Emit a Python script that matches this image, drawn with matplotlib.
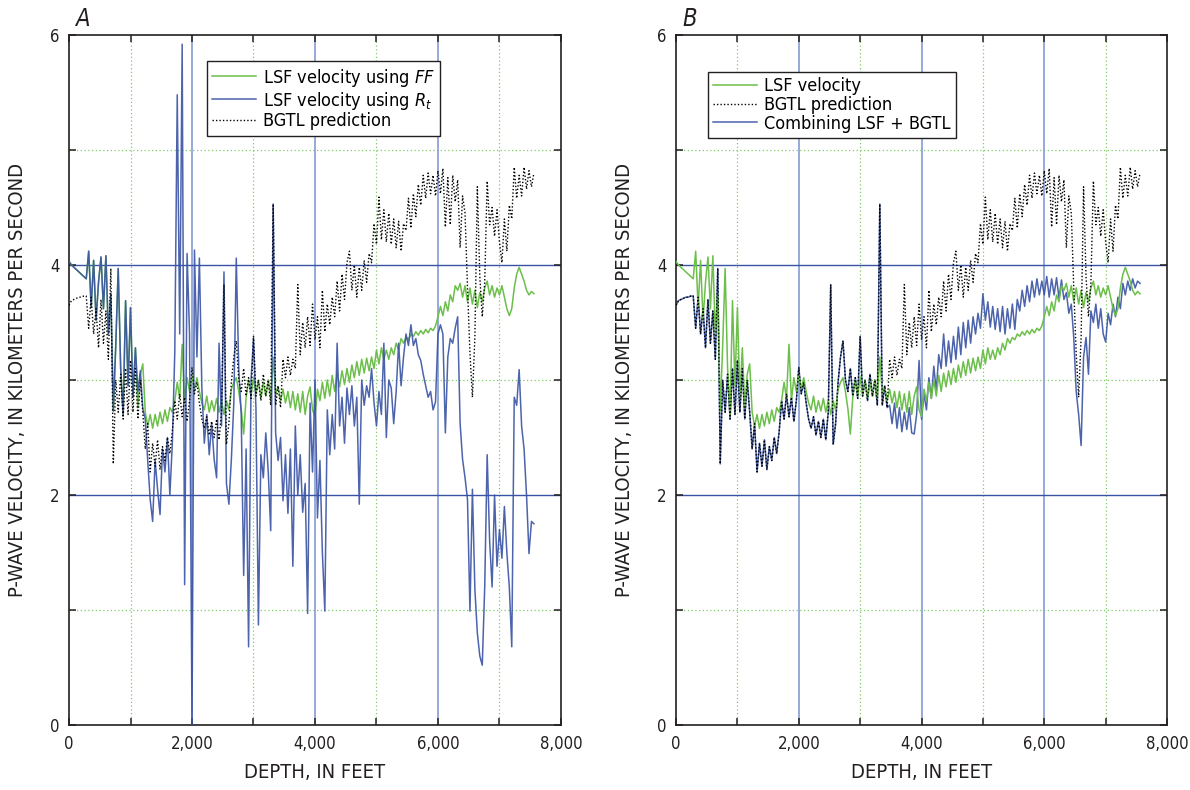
import numpy as np
import matplotlib
matplotlib.use('Agg')
import matplotlib.pyplot as plt
from matplotlib.ticker import MultipleLocator, FuncFormatter

plt.rcParams['font.family'] = ['DejaVu Sans']
plt.rcParams['font.stretch'] = 'condensed'
plt.rcParams['mathtext.fontset'] = 'custom'
plt.rcParams['mathtext.rm'] = 'DejaVu Sans'
plt.rcParams['mathtext.it'] = 'DejaVu Sans:italic'

# log samples every 40 ft, 0 - 7560 ft
depth = np.arange(0, 7561, 40)

# LSF velocity (km/s) from formation factor
lsf_velocity = [
    4.03, 4.00, 3.98, 3.96, 3.94, 3.92, 3.90, 3.88, 4.12, 3.63,
    4.04, 3.52, 3.85, 4.07, 3.62, 4.08, 3.40, 3.75, 2.73, 3.30,
    3.97, 3.10, 2.70, 3.69, 2.95, 3.63, 2.85, 3.28, 2.76, 3.05,
    3.14, 2.72, 2.60, 2.70, 2.58, 2.70, 2.60, 2.72, 2.62, 2.74,
    2.64, 2.76, 2.72, 2.82, 2.98, 2.84, 3.31, 2.82, 3.02, 2.90,
    3.04, 2.92, 3.02, 2.90, 2.80, 2.74, 2.86, 2.72, 2.82, 2.73,
    2.84, 2.72, 2.82, 2.70, 2.82, 2.74, 2.92, 2.98, 3.02, 2.90,
    2.75, 2.53, 2.85, 3.00, 2.86, 3.02, 2.88, 3.00, 2.84, 2.98,
    2.86, 3.00, 2.84, 3.20, 2.88, 2.94, 2.82, 2.92, 2.80, 2.90,
    2.76, 2.90, 2.74, 2.88, 2.72, 2.90, 2.70, 2.86, 2.94, 2.74,
    2.68, 2.92, 2.82, 2.98, 2.84, 3.00, 2.86, 3.04, 2.90, 3.06,
    2.94, 3.08, 2.96, 3.10, 2.98, 3.13, 3.02, 3.16, 3.04, 3.18,
    3.06, 3.19, 3.08, 3.20, 3.10, 3.26, 3.14, 3.28, 3.18, 3.26,
    3.18, 3.28, 3.22, 3.32, 3.26, 3.36, 3.32, 3.37, 3.35, 3.40,
    3.38, 3.42, 3.39, 3.43, 3.40, 3.44, 3.41, 3.45, 3.43, 3.47,
    3.55, 3.64, 3.56, 3.68, 3.60, 3.74, 3.68, 3.82, 3.78, 3.84,
    3.72, 3.82, 3.68, 3.80, 3.66, 3.78, 3.63, 3.76, 3.68, 3.80,
    3.86, 3.74, 3.82, 3.72, 3.80, 3.74, 3.82, 3.72, 3.62, 3.56,
    3.62, 3.80, 3.92, 3.98, 3.92, 3.86, 3.78, 3.74, 3.77, 3.75,
]

# BGTL predicted velocity (km/s)
bgtl_velocity = [
    3.65, 3.69, 3.70, 3.71, 3.72, 3.72, 3.73, 3.73, 3.45, 3.72,
    3.40, 3.62, 3.28, 3.70, 3.32, 3.60, 3.18, 3.97, 2.27, 3.00,
    2.72, 3.05, 2.66, 3.10, 2.70, 3.17, 2.72, 3.10, 2.66, 3.00,
    2.72, 2.40, 2.62, 2.20, 2.45, 2.25, 2.48, 2.22, 2.42, 2.30,
    2.50, 2.36, 2.55, 2.82, 2.66, 2.88, 2.68, 2.85, 2.64, 2.82,
    3.11, 2.88, 2.98, 2.80, 2.66, 2.58, 2.68, 2.52, 2.64, 2.50,
    2.66, 2.48, 2.72, 3.83, 2.44, 2.62, 2.98, 3.20, 3.34, 3.00,
    2.90, 3.10, 2.86, 3.02, 2.84, 3.38, 2.86, 3.00, 2.82, 3.05,
    2.86, 3.00, 2.78, 4.53, 2.78, 2.95, 2.76, 3.18, 3.02, 3.20,
    3.04, 3.18, 3.10, 3.83, 3.22, 3.50, 3.28, 3.55, 3.30, 3.66,
    3.35, 3.55, 3.28, 3.78, 3.42, 3.66, 3.48, 3.72, 3.55, 3.86,
    3.60, 3.92, 3.70, 4.02, 4.12, 3.78, 4.00, 3.72, 3.98, 3.78,
    4.04, 3.85, 4.10, 4.02, 4.36, 4.18, 4.59, 4.22, 4.48, 4.20,
    4.45, 4.18, 4.40, 4.15, 4.38, 4.12, 4.36, 4.30, 4.58, 4.32,
    4.62, 4.42, 4.70, 4.52, 4.78, 4.58, 4.80, 4.62, 4.78, 4.60,
    4.82, 4.62, 4.84, 4.33, 4.76, 4.35, 4.78, 4.55, 4.74, 4.15,
    4.60, 4.45, 3.80, 3.23, 2.85, 3.37, 4.68, 3.90, 3.55, 3.85,
    4.73, 4.35, 4.50, 4.25, 4.48, 4.20, 4.02, 4.40, 4.12, 4.52,
    4.40, 4.85, 4.58, 4.78, 4.60, 4.85, 4.66, 4.82, 4.68, 4.80,
]

# LSF velocity (km/s) from true resistivity; same as FF curve above 1,100 ft
rt_velocity = lsf_velocity[:28] + [
    2.90, 3.08,
    2.75, 2.66, 2.30, 1.96, 1.77, 2.30, 2.05, 1.83, 2.40, 2.20,
    2.50, 2.00, 2.45, 3.24, 5.48, 3.40, 5.92, 1.22, 4.10, 3.40,
    0.00, 4.13, 3.20, 4.06, 2.93, 2.45, 2.70, 2.35, 2.62, 2.31,
    2.15, 3.32, 2.60, 3.94, 2.10, 1.92, 2.31, 2.80, 4.06, 3.10,
    2.70, 1.30, 2.40, 0.68, 3.00, 3.36, 2.75, 0.87, 2.35, 2.15,
    2.54, 2.20, 1.69, 4.53, 2.54, 2.30, 2.50, 1.95, 2.35, 1.84,
    2.40, 1.38, 2.60, 2.00, 2.35, 1.85, 2.10, 0.97, 2.80, 2.20,
    3.00, 1.80, 2.30, 1.50, 0.99, 2.74, 2.35, 2.70, 2.40, 3.32,
    2.60, 2.85, 2.45, 2.93, 2.70, 2.95, 2.60, 2.85, 1.92, 3.00,
    2.78, 2.95, 2.85, 3.10, 2.80, 2.60, 2.90, 2.70, 3.32, 2.50,
    3.00, 2.93, 2.62, 2.90, 3.32, 2.95, 3.20, 3.40, 3.30, 3.48,
    3.30, 3.36, 3.22, 3.17, 3.05, 2.95, 2.85, 2.90, 2.74, 2.81,
    3.40, 3.48, 3.40, 2.54, 3.20, 3.36, 3.32, 3.45, 3.55, 2.62,
    2.31, 2.15, 1.96, 0.99, 2.05, 1.18, 0.80, 0.60, 0.52, 1.20,
    2.35, 1.60, 1.20, 2.00, 1.38, 1.70, 1.45, 1.90, 1.50, 1.20,
    0.68, 2.85, 2.78, 3.09, 2.60, 2.40, 2.00, 1.49, 1.77, 1.75,
]

# combined LSF + BGTL velocity (km/s); follows BGTL above 3,480 ft
combined_velocity = bgtl_velocity[:87] + [
    2.78, 2.62, 2.80,
    2.58, 2.76, 2.55, 2.72, 2.57, 2.76, 2.54, 2.53, 2.70, 3.17,
    2.66, 2.88, 2.74, 3.02, 2.84, 3.12, 2.90, 3.22, 3.10, 3.40,
    3.12, 3.34, 3.15, 3.38, 3.18, 3.46, 3.22, 3.50, 3.28, 3.52,
    3.32, 3.55, 3.40, 3.58, 3.45, 3.75, 3.52, 3.68, 3.46, 3.64,
    3.44, 3.62, 3.42, 3.64, 3.40, 3.62, 3.45, 3.66, 3.44, 3.70,
    3.60, 3.78, 3.64, 3.82, 3.68, 3.86, 3.72, 3.88, 3.74, 3.86,
    3.74, 3.90, 3.72, 3.88, 3.74, 3.89, 3.71, 3.87, 3.70, 3.76,
    3.58, 3.66, 3.37, 2.90, 2.70, 2.43, 3.20, 3.37, 3.05, 3.60,
    3.50, 3.66, 3.45, 3.62, 3.40, 3.33, 3.58, 3.48, 3.66, 3.55,
    3.72, 3.62, 3.84, 3.74, 3.86, 3.78, 3.88, 3.80, 3.86, 3.84,
]

GREEN = '#6cbf4a'
BLUE = '#3953a4'
GRID_BLUE_H = '#3953a4'
GRID_BLUE_V = '#8fa2d6'
GRID_GREEN = '#7ccb66'
INK = '#231f20'


def style_axes(ax, letter):
    ax.set_xlim(0, 8000)
    ax.set_ylim(0, 6)
    ax.xaxis.set_major_locator(MultipleLocator(2000))
    ax.xaxis.set_minor_locator(MultipleLocator(1000))
    ax.yaxis.set_major_locator(MultipleLocator(2))
    ax.yaxis.set_minor_locator(MultipleLocator(1))
    ax.xaxis.set_major_formatter(FuncFormatter(lambda v, p: '{:,.0f}'.format(v)))

    # grid: dotted green at odd thousands / odd velocities, blue at the majors
    for x in (1000, 3000, 5000, 7000):
        ax.axvline(x, color=GRID_GREEN, lw=0.9, ls=(0, (1, 2)), zorder=0)
    for y in (1, 3, 5):
        ax.axhline(y, color=GRID_GREEN, lw=0.9, ls=(0, (1, 2)), zorder=0)
    for x in (2000, 4000, 6000):
        ax.axvline(x, color=GRID_BLUE_V, lw=1.3, zorder=0)
    for y in (2, 4):
        ax.axhline(y, color=GRID_BLUE_H, lw=1.0, zorder=0)

    ax.tick_params(which='both', direction='in', top=True, right=True,
                   length=5, width=1.1, color=INK, labelsize=12, pad=7,
                   labelcolor=INK)
    for s in ax.spines.values():
        s.set_linewidth(1.2)
        s.set_color(INK)

    ax.set_xlabel('DEPTH, IN FEET', fontsize=14.5, color=INK)
    ax.set_ylabel('P-WAVE VELOCITY, IN KILOMETERS PER SECOND', fontsize=14.5, color=INK)
    ax.xaxis.set_label_coords(0.5, -0.055)
    ax.yaxis.set_label_coords(-0.085, 0.5)
    ax.text(0.012, 1.006, letter, transform=ax.transAxes, fontsize=17,
            style='italic', color=INK, va='bottom', ha='left')


def add_legend(ax, handles, labels, anchor):
    leg = ax.legend(handles, labels, loc='upper left', bbox_to_anchor=anchor,
                    fontsize=13, frameon=True, fancybox=False, edgecolor=INK,
                    framealpha=1, handlelength=2.4, handletextpad=0.4,
                    labelspacing=0.05, borderpad=0.3, borderaxespad=0)
    leg.get_frame().set_linewidth(1.0)


fig = plt.figure(figsize=(11.9, 7.9), dpi=100)
ax_a = fig.add_axes([0.058, 0.0823, 0.4134, 0.8734])
ax_b = fig.add_axes([0.5681, 0.0823, 0.4126, 0.8734])

# panel A
ax_a.plot(depth, lsf_velocity, color=GREEN, lw=1.1, label=r'LSF velocity using $\mathit{FF}$', zorder=2)
ax_a.plot(depth, rt_velocity, color=BLUE, lw=1.1, alpha=0.9, label=r'LSF velocity using $R_t$', zorder=3)
ax_a.plot(depth, bgtl_velocity, color='black', lw=1.0, ls=(0, (1, 1.5)), label='BGTL prediction', zorder=4)
style_axes(ax_a, 'A')
h, l = ax_a.get_legend_handles_labels()
add_legend(ax_a, h, l, (0.28, 0.962))

# panel B
ax_b.plot(depth, combined_velocity, color=BLUE, lw=1.1, alpha=0.9, label='Combining LSF + BGTL', zorder=2)
ax_b.plot(depth, lsf_velocity, color=GREEN, lw=1.1, label='LSF velocity', zorder=3)
ax_b.plot(depth, bgtl_velocity, color='black', lw=1.0, ls=(0, (1, 1.5)), label='BGTL prediction', zorder=4)
style_axes(ax_b, 'B')
h, l = ax_b.get_legend_handles_labels()
order = [1, 2, 0]
add_legend(ax_b, [h[i] for i in order], [l[i] for i in order], (0.065, 0.947))

fig.savefig('out.png', dpi=100)
